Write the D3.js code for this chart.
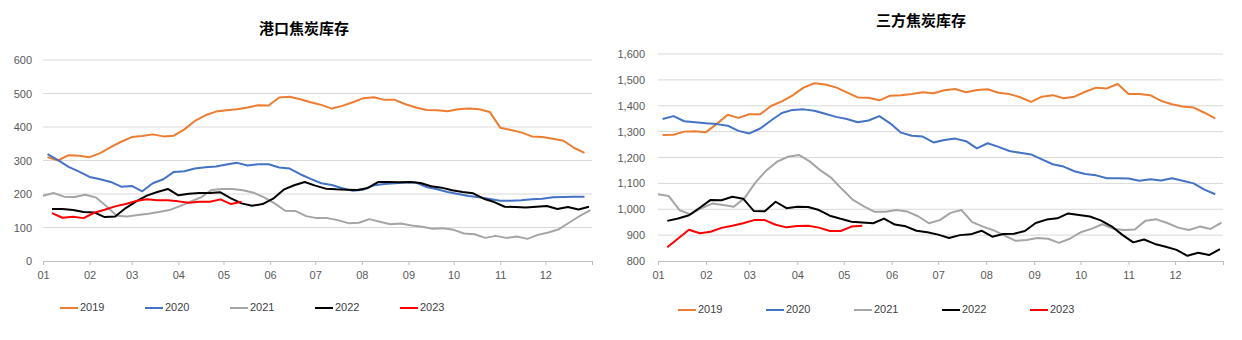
<!doctype html>
<html>
<head>
<meta charset="utf-8">
<title>焦炭库存</title>
<script src="https://cdn.jsdelivr.net/npm/d3@7"></script>
<style>
    body { margin: 0; background: #fff; }
    svg { display: block; font-family: "Liberation Sans", Arial, sans-serif; }
</style>
</head>
<body>
<svg id="chart" width="1242" height="340"></svg>
<script>
// weekly readings, one array per year
const years = ["2019", "2020", "2021", "2022", "2023"];
const colors = ["#ED7D31", "#4472C4", "#A5A5A5", "#000000", "#FF0000"];
// day of the year of each series' first weekly reading
const firstDay = [3, 3, 0, 6, 6];

// 港口焦炭库存
const port2019 = [310, 300, 316, 314, 310, 322, 340, 356, 370, 373, 378, 372, 374, 393, 418, 435, 446, 450, 453, 458,
    465, 464, 488, 490, 483, 474, 466, 455, 463, 474, 486, 489, 481, 481, 468, 458, 451, 450, 447, 453,
    455, 453, 445, 398, 391, 384, 372, 370, 365, 359, 338, 323];
const port2020 = [319, 301, 281, 267, 251, 244, 236, 222, 224, 208, 232, 244, 266, 268, 276, 280, 282, 288, 293, 285,
    289, 289, 279, 276, 259, 245, 232, 227, 217, 210, 213, 226, 230, 232, 234, 234, 221, 214, 206, 200,
    194, 190, 185, 180, 180, 181, 184, 186, 190, 191, 192, 192];
const port2021 = [195, 203, 192, 191, 198, 190, 164, 135, 133, 137, 141, 146, 152, 164, 177, 190, 212, 215, 215, 211,
    204, 190, 172, 150, 149, 134, 128, 128, 122, 113, 114, 125, 117, 110, 112, 106, 102, 96, 98, 93,
    82, 80, 69, 75, 69, 73, 66, 78, 85, 95, 115, 135, 152];
const port2022 = [155, 155, 152, 146, 145, 131, 133, 158, 178, 195, 206, 215, 196, 201, 203, 203, 205, 187, 172, 165,
    170, 186, 213, 226, 236, 225, 216, 214, 213, 212, 218, 236, 236, 235, 236, 233, 223, 219, 211, 206,
    202, 186, 176, 162, 161, 160, 162, 164, 155, 161, 154, 162];
const port2023 = [143, 129, 132, 128, 144, 153, 163, 170, 179, 184, 181, 181, 178, 174, 177, 177, 184, 170, 177];

// 三方焦炭库存
const third2019 = [1287, 1288, 1300, 1301, 1298, 1330, 1365, 1353, 1367, 1367, 1399, 1417, 1440, 1470, 1487, 1482, 1471, 1452, 1432, 1431,
    1421, 1439, 1441, 1445, 1452, 1448, 1460, 1465, 1452, 1461, 1464, 1450, 1445, 1433, 1415, 1435, 1441, 1429, 1435, 1454,
    1470, 1467, 1484, 1445, 1445, 1441, 1419, 1406, 1397, 1393, 1373, 1351];
const third2020 = [1349, 1360, 1340, 1336, 1332, 1329, 1323, 1303, 1293, 1312, 1343, 1372, 1384, 1386, 1381, 1369, 1357, 1349, 1336, 1343,
    1360, 1332, 1296, 1284, 1281, 1258, 1268, 1273, 1263, 1235, 1255, 1241, 1225, 1218, 1212, 1193, 1174, 1165, 1147, 1136,
    1131, 1120, 1120, 1119, 1110, 1116, 1111, 1120, 1110, 1100, 1076, 1058];
const third2021 = [1058, 1051, 996, 980, 1004, 1022, 1016, 1010, 1044, 1104, 1150, 1184, 1203, 1210, 1185, 1150, 1121, 1077, 1036, 1011,
    990, 990, 997, 991, 973, 946, 958, 986, 997, 950, 933, 918, 898, 878, 881, 889, 886, 870, 886, 911,
    924, 942, 925, 920, 922, 956, 961, 947, 929, 920, 933, 924, 948];
const third2022 = [955, 964, 977, 1006, 1036, 1035, 1048, 1041, 993, 992, 1029, 1004, 1010, 1009, 997, 975, 963, 952, 949, 946,
    964, 941, 934, 917, 911, 902, 889, 900, 903, 917, 894, 904, 905, 916, 947, 960, 965, 984, 978, 972,
    957, 934, 901, 872, 883, 866, 855, 843, 820, 832, 823, 846];
const third2023 = [853, 887, 921, 907, 913, 928, 936, 946, 958, 958, 940, 930, 935, 936, 929, 916, 916, 933, 936];

const portTicks = [0, 100, 200, 300, 400, 500, 600];
const thirdTicks = [800, 900, 1000, 1100, 1200, 1300, 1400, 1500, 1600];

const svg = d3.select("#chart");
const yearStart = new Date(2019, 0, 1);
const yearEnd = new Date(2020, 0, 1);

function drawPanel(p) {
    const g = svg.append("g");

    const x = d3.scaleTime().domain([yearStart, yearEnd]).range([p.left, p.right]);
    const y = d3.scaleLinear().domain([p.ticks[0], p.ticks[p.ticks.length - 1]]).range([p.bottom, p.top]);

    // grid
    g.append("g")
        .selectAll("line")
        .data(p.ticks.slice(1))
        .enter()
        .append("line")
        .attr("x1", p.left)
        .attr("x2", p.right)
        .attr("y1", d => y(d))
        .attr("y2", d => y(d))
        .attr("stroke", "#d9d9d9")
        .attr("stroke-width", 1);

    // y axis labels only
    const yAxis = g.append("g")
        .attr("transform", "translate(" + p.yLabelX + ",0)")
        .call(d3.axisLeft(y).tickValues(p.ticks).tickSize(0).tickPadding(0).tickFormat(p.format));
    yAxis.select(".domain").remove();
    yAxis.selectAll("text")
        .attr("fill", "#595959")
        .style("font-size", "11px");

    // month axis
    const months = d3.timeMonth.range(yearStart, new Date(2020, 0, 2));
    const xAxis = g.append("g")
        .attr("transform", "translate(0," + p.bottom + ")")
        .call(d3.axisBottom(x)
            .tickValues(months)
            .tickSize(4)
            .tickPadding(6)
            .tickFormat(d => d.getFullYear() === 2019 ? d3.timeFormat("%m")(d) : ""));
    xAxis.select(".domain").attr("stroke", "#bfbfbf");
    xAxis.selectAll(".tick line").attr("stroke", "#bfbfbf");
    xAxis.selectAll("text")
        .attr("fill", "#595959")
        .style("font-size", "11px");

    // series
    const line = d3.line()
        .x(d => x(d.date))
        .y(d => y(d.value));

    p.series.forEach(function(values, k) {
        const pts = values.map(function(v, i) {
            return { date: new Date(2019, 0, 1 + firstDay[k] + 7 * i), value: v };
        });
        g.append("path")
            .datum(pts)
            .attr("fill", "none")
            .attr("stroke", colors[k])
            .attr("stroke-width", 2)
            .attr("stroke-linejoin", "round")
            .attr("d", line);
    });

    // title
    g.append("text")
        .attr("x", p.titleX)
        .attr("y", p.titleY)
        .attr("text-anchor", "middle")
        .attr("dominant-baseline", "middle")
        .style("font-family", "'Noto Sans CJK SC', sans-serif")
        .style("font-size", "15px")
        .style("font-weight", "bold")
        .attr("fill", "#000")
        .text(p.title);

    // legend
    const legend = g.append("g")
        .selectAll("g")
        .data(years)
        .enter()
        .append("g")
        .attr("transform", (d, i) => "translate(" + (p.legendX + i * p.legendStep) + "," + p.legendY + ")");
    legend.append("line")
        .attr("x1", 0)
        .attr("x2", 18)
        .attr("stroke", (d, i) => colors[i])
        .attr("stroke-width", 2);
    legend.append("text")
        .attr("x", 20)
        .attr("dominant-baseline", "middle")
        .style("font-family", "'Liberation Sans Narrow', 'Liberation Sans', sans-serif")
        .style("font-size", "11px")
        .attr("fill", "#404040")
        .text(d => d);
}

drawPanel({
    left: 43, right: 592, top: 60, bottom: 261,
    ticks: portTicks,
    format: d3.format("d"),
    yLabelX: 32,
    series: [port2019, port2020, port2021, port2022, port2023],
    title: "港口焦炭库存", titleX: 304, titleY: 30,
    legendX: 60, legendStep: 85, legendY: 308
});

drawPanel({
    left: 658, right: 1223, top: 54, bottom: 261,
    ticks: thirdTicks,
    format: d3.format(","),
    yLabelX: 645,
    series: [third2019, third2020, third2021, third2022, third2023],
    title: "三方焦炭库存", titleX: 921, titleY: 22,
    legendX: 678, legendStep: 88, legendY: 310
});
</script>
</body>
</html>
